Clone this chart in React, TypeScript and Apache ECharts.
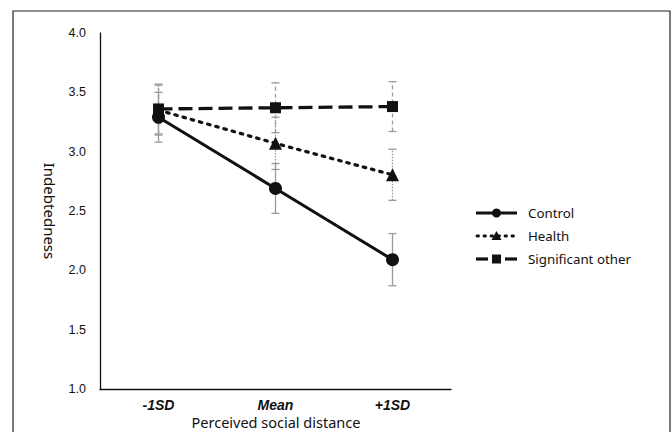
import React, { useEffect, useRef } from "react";
import * as echarts from "echarts";

const categories = ["-1SD", "Mean", "+1SD"];
const controlMean = [3.29, 2.69, 2.09];
const controlErr = [0.21, 0.21, 0.22];
const healthMean = [3.35, 3.07, 2.805];
const healthErr = [0.21, 0.22, 0.215];
const sigMean = [3.36, 3.37, 3.38];
const sigErr = [0.21, 0.21, 0.21];
const seriesNames = ["Control", "Health", "Significant other"];
const xAxisTitle = "Perceived social distance";
const yAxisTitle = "Indebtedness";
const yTicks = { min: 1, max: 4, interval: 0.5 };

function errSeries(name: string, means: number[], errs: number[], dash: number[] | null) {
  return {
    type: "custom",
    name: name + "-err",
    z: 1,
    silent: true,
    data: means.map((m, i) => [i, m - errs[i], m + errs[i]]),
    renderItem: (params: any, api: any) => {
      const x = api.value(0);
      const lo = api.coord([x, api.value(1)]);
      const hi = api.coord([x, api.value(2)]);
      const style: any = { stroke: "#9a9a9a", lineWidth: 1.3 };
      if (dash) style.lineDash = dash;
      const w = 4;
      return {
        type: "group",
        children: [
          { type: "line", shape: { x1: lo[0], y1: lo[1], x2: hi[0], y2: hi[1] }, style },
          { type: "line", shape: { x1: lo[0] - w, y1: lo[1], x2: lo[0] + w, y2: lo[1] }, style: { stroke: "#9a9a9a", lineWidth: 1.3 } },
          { type: "line", shape: { x1: hi[0] - w, y1: hi[1], x2: hi[0] + w, y2: hi[1] }, style: { stroke: "#9a9a9a", lineWidth: 1.3 } },
        ],
      };
    },
  };
}

function legendGraphics() {
  const x0 = 476, x1 = 517, tx = 528;
  const ys = [213, 236, 259];
  const txt = (y: number, s: string) => ({
    type: "text",
    x: tx,
    y,
    style: { text: s, fontFamily: "Noto Sans", fontSize: 13.3, fill: "#111", verticalAlign: "middle", textAlign: "left" },
    silent: true,
  });
  const cx = (x0 + x1) / 2;
  return [
    { type: "line", shape: { x1: x0, y1: ys[0], x2: x1, y2: ys[0] }, style: { stroke: "#111", lineWidth: 3 }, silent: true },
    { type: "circle", shape: { cx, cy: ys[0], r: 4.5 }, style: { fill: "#111" }, silent: true },
    txt(ys[0], seriesNames[0]),
    { type: "line", shape: { x1: x0 + 1, y1: ys[1], x2: x1, y2: ys[1] }, style: { stroke: "#111", lineWidth: 2.8, lineDash: [1.5, 5.5], lineCap: "round" }, silent: true },
    { type: "polygon", shape: { points: [[cx, ys[1] - 5], [cx - 5, ys[1] + 4], [cx + 5, ys[1] + 4]] }, style: { fill: "#111" }, silent: true },
    txt(ys[1], seriesNames[1]),
    { type: "line", shape: { x1: x0, y1: ys[2], x2: x0 + 12, y2: ys[2] }, style: { stroke: "#111", lineWidth: 3.2 }, silent: true },
    { type: "line", shape: { x1: x1 - 12, y1: ys[2], x2: x1, y2: ys[2] }, style: { stroke: "#111", lineWidth: 3.2 }, silent: true },
    { type: "rect", shape: { x: cx - 4.5, y: ys[2] - 4.5, width: 9, height: 9 }, style: { fill: "#111" }, silent: true },
    txt(ys[2], seriesNames[2]),
  ];
}

export default function App() {
  const ref = useRef<HTMLDivElement>(null);
  useEffect(() => {
    document.body.style.margin = "0";
    const chart = echarts.init(ref.current!, null, { renderer: "svg" });
    chart.setOption({
      animation: false,
      backgroundColor: "#fff",
      grid: { left: 100, top: 33, right: 221, bottom: 43, outerBoundsMode: "none", containLabel: false },
      graphic: [
        {
          type: "rect",
          shape: { x: 13, y: 11, width: 657, height: 440 },
          style: { fill: "none", stroke: "#222", lineWidth: 1.2 },
          silent: true,
        },
        {
          type: "text",
          x: 276,
          y: 422,
          style: {
            text: xAxisTitle,
            fontFamily: "Noto Sans",
            fontSize: 14.5,
            lineHeight: 16,
            fill: "#111",
            textAlign: "center",
            verticalAlign: "middle",
          },
          silent: true,
        },
        ...legendGraphics(),
      ],
      xAxis: {
        type: "category",
        data: categories,
        boundaryGap: true,
        axisLine: { lineStyle: { color: "#111", width: 1.3 } },
        axisTick: { show: false },
        axisLabel: {
          fontFamily: "Liberation Sans",
          fontStyle: "italic",
          fontWeight: "bold",
          fontSize: 14,
          color: "#111",
          margin: 9,
        },
      },
      yAxis: {
        type: "value",
        min: yTicks.min,
        max: yTicks.max,
        interval: yTicks.interval,
        axisLine: { show: true, lineStyle: { color: "#111", width: 1.3 } },
        axisTick: { show: false },
        splitLine: { show: false },
        axisLabel: {
          fontFamily: "Liberation Sans",
          fontSize: 12.5,
          color: "#111",
          margin: 14,
          formatter: (v: number) => v.toFixed(1),
        },
        name: yAxisTitle,
        nameLocation: "middle",
        nameRotate: -90,
        nameGap: 42,
        nameTextStyle: { fontFamily: "Noto Sans", fontSize: 15, color: "#111" },
      },
      series: [
        errSeries("Control", controlMean, controlErr, null),
        errSeries("Health", healthMean, healthErr, [1.5, 1.5]),
        errSeries("Significant other", sigMean, sigErr, [4, 3]),
        {
          name: seriesNames[0],
          type: "line",
          z: 3,
          data: controlMean,
          symbol: "circle",
          symbolSize: 13,
          itemStyle: { color: "#111" },
          lineStyle: { color: "#111", width: 3 },
        },
        {
          name: seriesNames[1],
          type: "line",
          z: 3,
          data: healthMean,
          symbol: "triangle",
          symbolSize: 13,
          itemStyle: { color: "#111" },
          lineStyle: { color: "#111", width: 3.2, type: [2.5, 6], cap: "round" },
        },
        {
          name: seriesNames[2],
          type: "line",
          z: 3,
          data: sigMean,
          symbol: "rect",
          symbolSize: 11,
          itemStyle: { color: "#111" },
          lineStyle: { color: "#111", width: 3.3, type: [14, 6] },
        },
      ],
    });
    return () => chart.dispose();
  }, []);
  return <div ref={ref} style={{ width: 672, height: 432 }} />;
}
